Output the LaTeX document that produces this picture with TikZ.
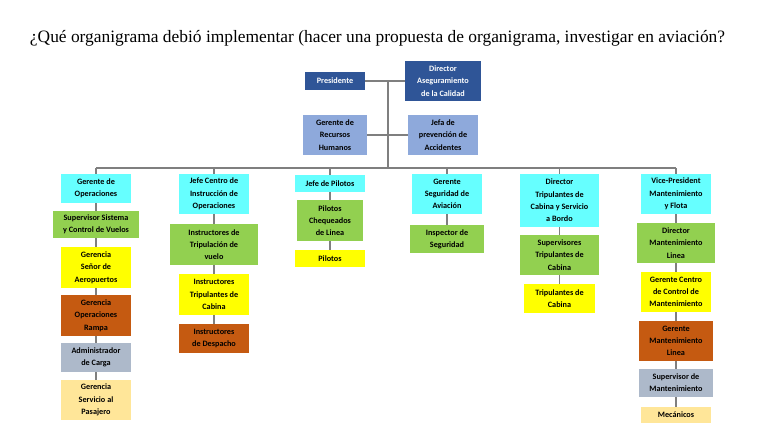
\documentclass[tikz,border=0pt]{standalone}
\usepackage{fontspec}
\setmainfont{Liberation Serif}
\newfontfamily\cajafont{Carlito}
\usepackage{tikz}
\usetikzlibrary{positioning}
\definecolor{navy}{HTML}{2F5597}
\definecolor{celeste}{HTML}{8EA9DB}
\definecolor{cian}{HTML}{66FFFF}
\definecolor{verde}{HTML}{92D050}
\definecolor{amarillo}{HTML}{FFFF00}
\definecolor{naranja}{HTML}{C55A11}
\definecolor{grisazul}{HTML}{ADB9CA}
\definecolor{crema}{HTML}{FFE699}
\definecolor{linea}{HTML}{7F7F7F}
\tikzset{
  orgbox/.style={inner sep=0pt,align=center,text=black,
    font=\cajafont\bfseries\fontsize{8.2}{12.3}\selectfont},
  conector/.style={draw=linea,line width=1.5pt}
}
\newcommand{\caja}[7]{%
  \node[orgbox,fill=#6,minimum width={(#4-#2)*1pt},minimum height={(#5-#3)*1pt}]
    (#1) at ({(#2+#4)/2},{(#3+#5)/2}) {#7};
}

\begin{document}
\begin{tikzpicture}[x=1pt,y=-1pt]
  \useasboundingbox[fill=white] (0,0) rectangle (768,433);
  \node[anchor=base,font=\fontsize{17.4}{20}\selectfont] (titulo) at (377.5,43)
    {¿Qué organigrama debió implementar (hacer una propuesta de organigrama, investigar en aviación?};

  \caja{pres}{305}{72}{365}{90}{navy}{\textcolor{white}{Presidente}}
  \caja{dirac}{405}{61}{481}{101}{navy}{\textcolor{white}{Director}\\\textcolor{white}{Aseguramiento}\\\textcolor{white}{de la Calidad}}
  \caja{rrhh}{303}{115}{367}{155}{celeste}{Gerente de\\Recursos\\Humanos}
  \caja{jefa}{408}{115}{478}{155}{celeste}{Jefa de\\prevención de\\Accidentes}

  \caja{gop}{61}{174}{131}{203}{cian}{Gerente de\\Operaciones}
  \caja{supsis}{53}{211}{139}{238}{verde}{Supervisor Sistema\\y Control de Vuelos}
  \caja{gsen}{61}{247}{131}{288}{amarillo}{Gerencia\\Señor de\\Aeropuertos}
  \caja{gram}{61}{295}{131}{336}{naranja}{Gerencia\\Operaciones\\Rampa}
  \caja{adc}{61}{343}{131}{372}{grisazul}{Administrador\\de Carga}
  \caja{gsp}{61}{380}{131}{420}{crema}{Gerencia\\Servicio al\\Pasajero}

  \caja{jcio}{179}{174}{249}{214}{cian}{Jefe Centro de\\Instrucción de\\Operaciones}
  \caja{itv}{170}{224}{258}{265}{verde}{Instructores de\\Tripulación de\\vuelo}
  \caja{itc}{179}{274}{249}{315}{amarillo}{Instructores\\Tripulantes de\\Cabina}
  \caja{idp}{179}{324}{249}{353}{naranja}{Instructores\\de Despacho}

  \caja{jp}{295}{175}{365}{192}{cian}{Jefe de Pilotos}
  \caja{pcl}{297}{200}{363}{241}{verde}{Pilotos\\Chequeados\\de Linea}
  \caja{pil}{295}{250}{365}{267}{amarillo}{Pilotos}

  \caja{gsa}{412}{174}{482}{214}{cian}{Gerente\\Seguridad de\\Aviación}
  \caja{isg}{410}{225}{484}{253}{verde}{Inspector de\\Seguridad}

  \caja{dtc}{520}{174}{599}{227}{cian}{Director\\Tripulantes de\\Cabina y Servicio\\a Bordo}
  \caja{stc}{520}{235}{599}{275}{verde}{Supervisores\\Tripulantes de\\Cabina}
  \caja{tdc}{524}{284}{595}{313}{amarillo}{Tripulantes de\\Cabina}

  \caja{vpm}{641}{174}{711}{214}{cian}{Vice-President\\Mantenimiento\\y Flota}
  \caja{dml}{637}{223}{715}{263}{verde}{Director\\Mantenimiento\\Linea}
  \caja{gccm}{641}{272}{711}{312}{amarillo}{Gerente Centro\\de Control de\\Mantenimiento}
  \caja{gml}{639}{321}{713}{361}{naranja}{Gerente\\Mantenimiento\\Linea}
  \caja{smt}{639}{369}{713}{397}{grisazul}{Supervisor de\\Mantenimiento}
  \caja{mec}{641}{407}{711}{423}{crema}{Mecánicos}

  \coordinate (eje) at (388,81);
  \coordinate (bus) at (388,168);

  \draw[conector] (pres) -- (dirac);
  \draw[conector] (rrhh) -- (jefa);
  \draw[conector] (eje) -- (bus);
  \draw[conector] (gop.north |- bus) -- (vpm.north |- bus);
  \foreach \jefe in {gop,jcio,jp,gsa,dtc,vpm}
    \draw[conector] (\jefe.north) -- (\jefe.north |- bus);

  \draw[conector] (gop) -- (supsis);
  \draw[conector] (supsis) -- (gsen);
  \draw[conector] (gsen) -- (gram);
  \draw[conector] (gram) -- (adc);
  \draw[conector] (adc) -- (gsp);

  \draw[conector] (jcio) -- (itv);
  \draw[conector] (itv) -- (itc);
  \draw[conector] (itc) -- (idp);

  \draw[conector] (jp) -- (pcl);
  \draw[conector] (pcl) -- (pil);

  \draw[conector] (gsa) -- (isg);

  \draw[conector] (dtc) -- (stc);
  \draw[conector] (stc) -- (tdc);

  \draw[conector] (vpm) -- (dml);
  \draw[conector] (dml) -- (gccm);
  \draw[conector] (gccm) -- (gml);
  \draw[conector] (gml) -- (smt);
  \draw[conector] (smt) -- (mec);
\end{tikzpicture}
\end{document}
